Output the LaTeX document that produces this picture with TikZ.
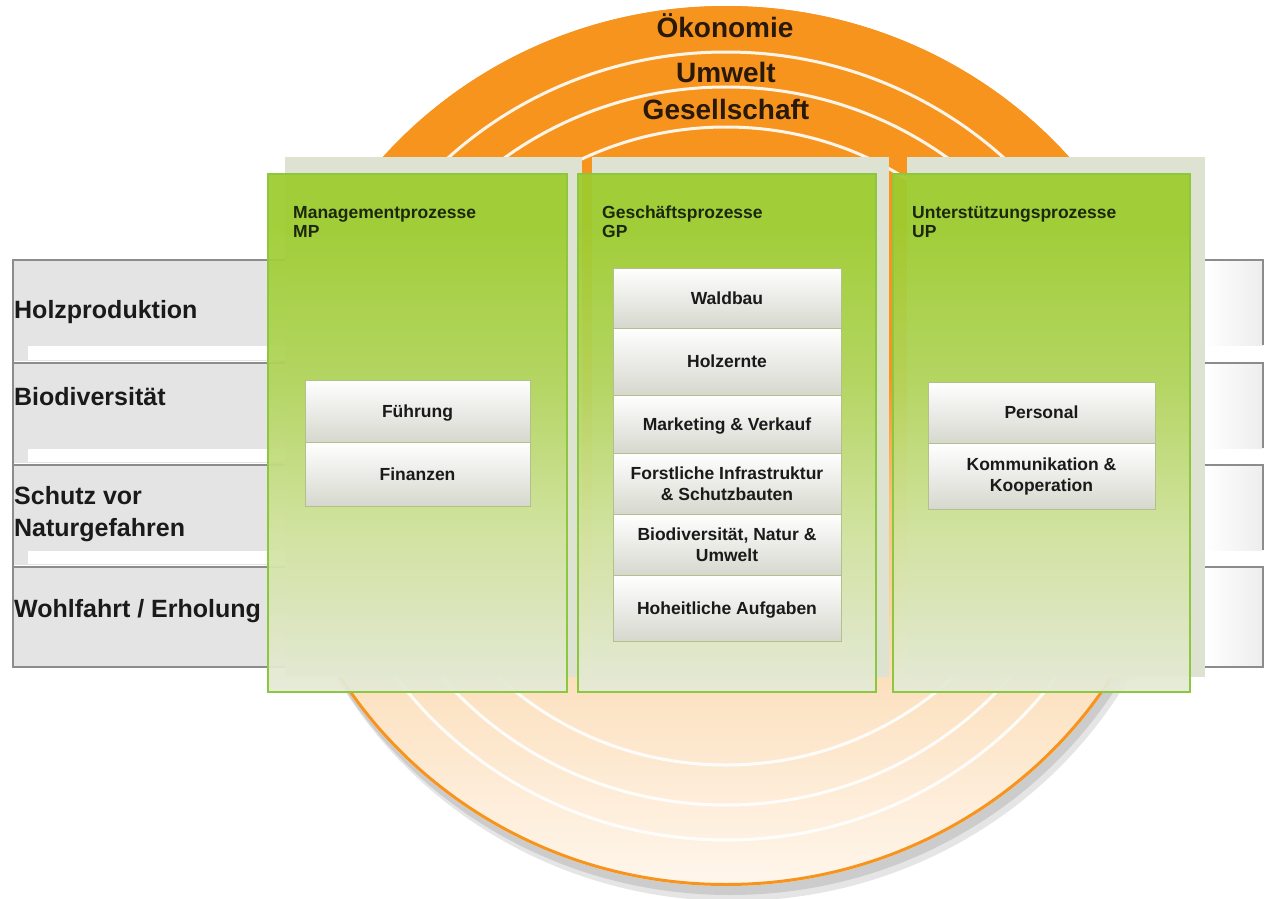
\documentclass[tikz,border=0pt]{standalone}
\usepackage{fontspec}
\setmainfont{Liberation Sans}
\definecolor{orng}{RGB}{247,148,30}
\definecolor{orpale}{RGB}{255,246,236}
\definecolor{ormid}{RGB}{252,226,194}
\definecolor{ormidb}{RGB}{250,192,122}
\definecolor{gtop}{RGB}{158,204,48}
\definecolor{gmid}{RGB}{178,213,92}
\definecolor{glow}{RGB}{210,227,160}
\definecolor{gbot}{RGB}{229,234,216}
\definecolor{gborder}{RGB}{141,198,63}
\definecolor{backpanel}{RGB}{221,227,208}
\definecolor{rowgray}{RGB}{228,228,228}
\definecolor{rowline}{RGB}{140,140,140}
\definecolor{boxbot}{RGB}{214,216,206}
\definecolor{boxline}{RGB}{178,192,140}
\definecolor{txt}{RGB}{26,26,26}
\definecolor{toptxt}{RGB}{40,25,10}
\definecolor{hdtxt}{RGB}{28,40,12}
\pgfdeclareverticalshading{discshade}{100bp}{color(0bp)=(orpale); color(25bp)=(orpale); color(36bp)=(ormid); color(47bp)=(ormidb); color(54bp)=(orng); color(100bp)=(orng)}
\pgfdeclareverticalshading{greenshade}{100bp}{color(0bp)=(gbot); color(25bp)=(gbot); color(40bp)=(glow); color(55bp)=(gmid); color(70bp)=(gtop); color(100bp)=(gtop)}
\tikzset{
  rowedge/.style={draw=rowline, line width=2.5pt},
  lbl/.style={font=\fontsize{25}{29}\selectfont\bfseries, text=txt, inner sep=0pt, anchor=base west},
  toplbl/.style={font=\fontsize{28}{32}\selectfont\bfseries, text=toptxt, inner sep=0pt, anchor=base},
  hdr/.style={font=\fontsize{17.5}{19}\selectfont\bfseries, text=hdtxt, inner sep=0pt, anchor=north west, align=left},
  frontbox/.style={draw=gborder, line width=2.5pt, shade, shading=greenshade, fill opacity=0.94, inner sep=0pt, minimum height=518pt},
  item/.style={draw=boxline, line width=0.7pt, top color=white, bottom color=boxbot, inner sep=0pt, font=\fontsize{17.5}{21.5}\selectfont\bfseries, text=txt, align=center},
  one/.style={text height=12.4pt, text depth=0pt},
  ring/.style={draw=white, line width=3pt, opacity=0.9}
}
\begin{document}
\begin{tikzpicture}[x=1pt,y=-1pt]
\useasboundingbox (0,0) rectangle (1267,899);
% disc with shadow
\fill[black!10] (733,461) ellipse [x radius=455pt, y radius=440pt];
\fill[black!20] (730,455) ellipse [x radius=455pt, y radius=440pt];
\shade[shading=discshade] (726,446) ellipse [x radius=455pt, y radius=440pt];
\draw[ring] (726,446) ellipse [x radius=407.4pt, y radius=394pt];
\draw[ring] (726,446) ellipse [x radius=371.2pt, y radius=359pt];
\draw[ring] (726,446) ellipse [x radius=329.8pt, y radius=319pt];
\draw[orng, line width=3pt] (726,446) ellipse [x radius=453.5pt, y radius=438.5pt];
\node[toplbl] (oek) at (725,38) {Ökonomie};
\node[toplbl] (umw) at (726,83) {Umwelt};
\node[toplbl] (ges) at (726,120) {Gesellschaft};
% left rows
\fill[rowgray] (13,260) rectangle (290,361);
\fill[white] (28,346) rectangle (290,360);
\fill[rowgray] (13,363) rectangle (290,463);
\fill[white] (28,449) rectangle (290,462);
\fill[rowgray] (13,465) rectangle (290,565);
\fill[white] (28,551) rectangle (290,564);
\fill[rowgray] (13,567) rectangle (290,667);
\draw[rowedge] (290,260) -- (13,260) -- (13,667) -- (290,667);
\draw[rowedge] (13,363) -- (290,363);
\draw[rowedge] (13,465) -- (290,465);
\draw[rowedge] (13,567) -- (290,567);
% right brackets
\shade[left color=white, right color=black!7] (1205,260) rectangle (1263,345);
\shade[left color=white, right color=black!7] (1205,363) rectangle (1263,448);
\shade[left color=white, right color=black!7] (1205,465) rectangle (1263,550);
\shade[left color=white, right color=black!7] (1205,567) rectangle (1263,667);
\draw[rowedge] (1205,260) -- (1263,260) -- (1263,345);
\draw[rowedge] (1205,363) -- (1263,363) -- (1263,448);
\draw[rowedge] (1205,465) -- (1263,465) -- (1263,550);
\draw[rowedge] (1205,567) -- (1263,567) -- (1263,667) -- (1205,667);
% row labels
\node[lbl] (holz) at (14,318) {Holzproduktion};
\node[lbl] (bio) at (14,405) {Biodiversität};
\node[lbl] (schutz1) at (14,504) {Schutz vor};
\node[lbl] (schutz2) at (14,536) {Naturgefahren};
\node[lbl] (wohl) at (14,617) {Wohlfahrt / Erholung};
% back panels
\fill[backpanel] (285,157) rectangle (582,677);
\fill[backpanel] (592,157) rectangle (889,677);
\fill[backpanel] (907,157) rectangle (1205,677);
% front boxes
\node[frontbox, minimum width=299pt] (mp) at (417.5,433) {};
\node[frontbox, minimum width=298pt] (gp) at (727,433) {};
\node[frontbox, minimum width=297pt] (up) at (1041.5,433) {};
\node[hdr] (mph) at (293,206) {Managementprozesse\\MP};
\node[hdr] (gph) at (602,206) {Geschäftsprozesse\\GP};
\node[hdr] (uph) at (912,206) {Unterstützungsprozesse\\UP};
% MP items
\node[item, one, minimum width=225pt, minimum height=62pt] (fuehr) at (417.5,411) {Führung};
\node[item, one, minimum width=225pt, minimum height=64pt] (fin) at (417.5,474) {Finanzen};
% GP items
\node[item, one, minimum width=228pt, minimum height=60pt] (wald) at (727,298) {Waldbau};
\node[item, one, minimum width=228pt, minimum height=67pt] (holzernte) at (727,361.5) {Holzernte};
\node[item, one, minimum width=228pt, minimum height=58pt] (mark) at (727,424) {Marketing \& Verkauf};
\node[item, minimum width=228pt, minimum height=61pt] (forst) at (727,483.5) {Forstliche Infrastruktur\\\& Schutzbauten};
\node[item, minimum width=228pt, minimum height=61pt] (biod) at (727,544.5) {Biodiversität, Natur \&\\Umwelt};
\node[item, one, minimum width=228pt, minimum height=66pt] (hoh) at (727,608) {Hoheitliche Aufgaben};
% UP items
\node[item, one, minimum width=227pt, minimum height=61.5pt] (pers) at (1041.5,412.75) {Personal};
\node[item, minimum width=227pt, minimum height=65.5pt] (komm) at (1041.5,476.25) {Kommunikation \&\\Kooperation};
\end{tikzpicture}
\end{document}
